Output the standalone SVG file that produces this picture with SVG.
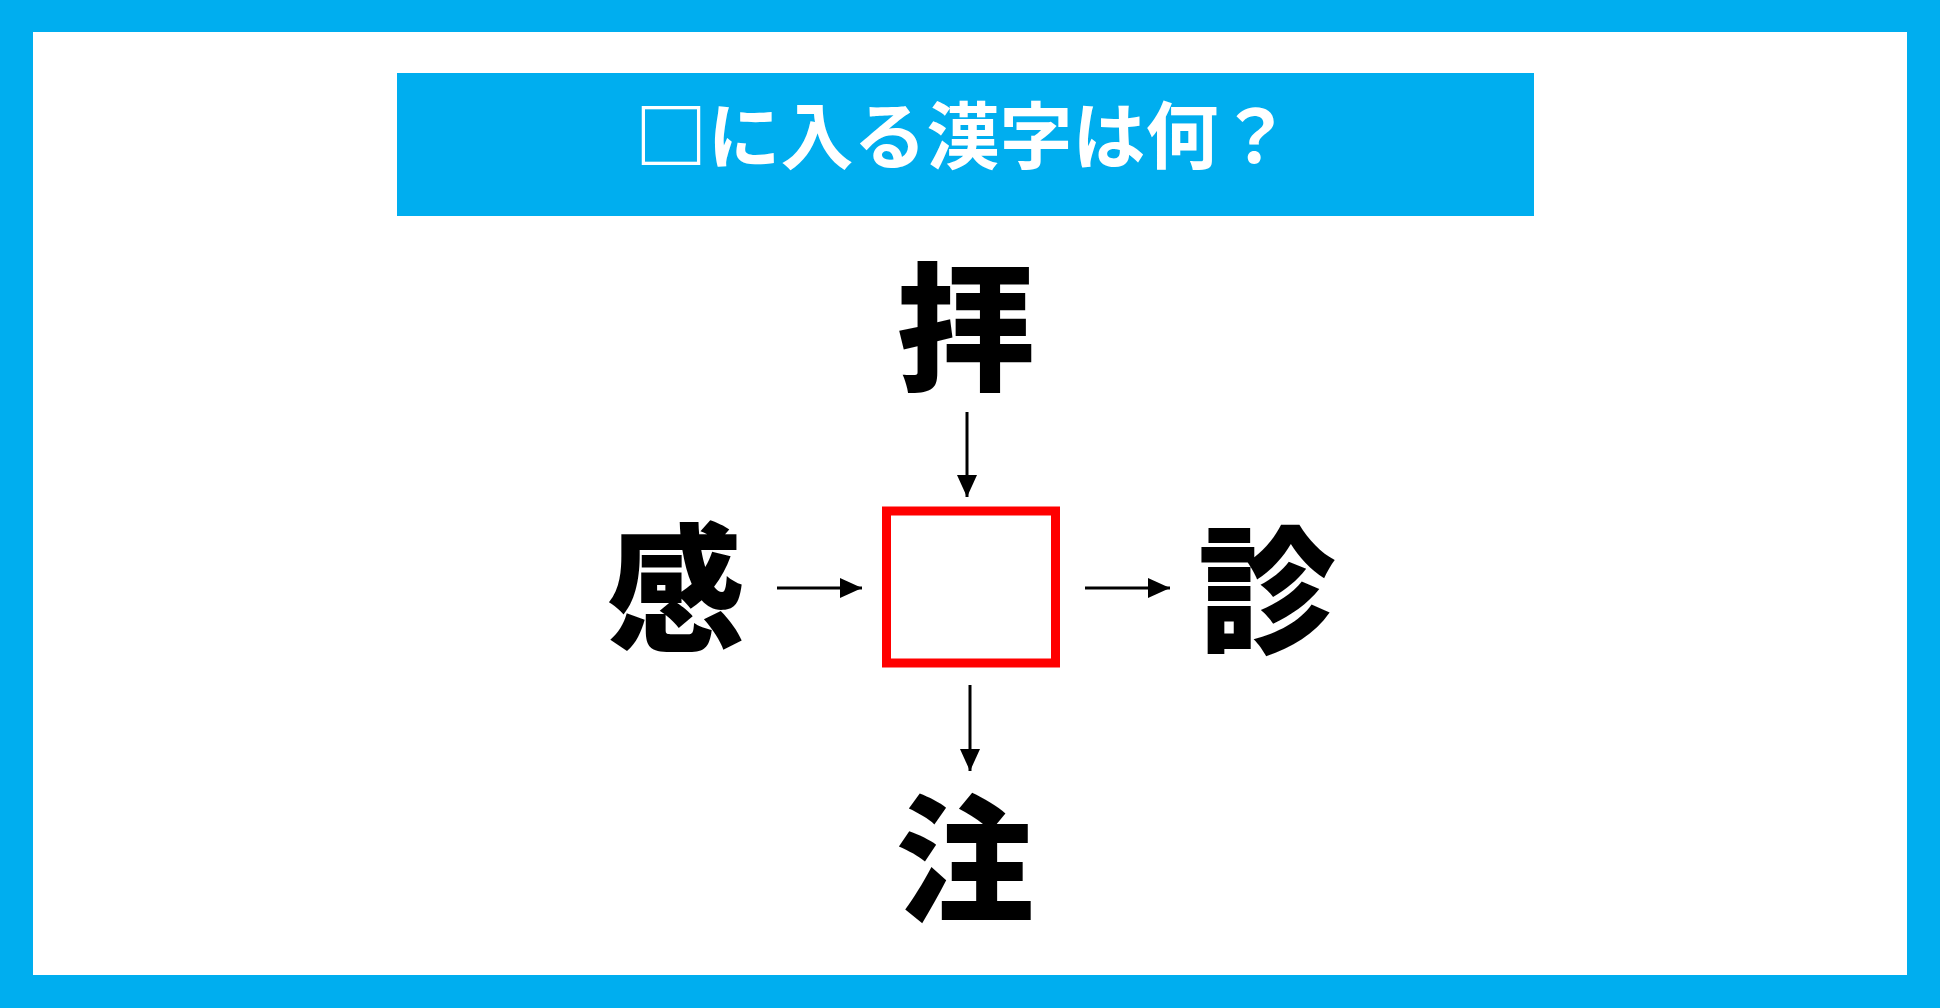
<svg xmlns="http://www.w3.org/2000/svg" width="1940" height="1008" viewBox="0 0 1940 1008">
  <defs>
    <style>
      .kanji { font-family: "Noto Sans CJK JP", "Noto Sans CJK SC", sans-serif; font-weight: 900; font-size: 138px; fill: #000; text-anchor: middle; dominant-baseline: central; }
      .title { font-family: "Noto Sans CJK JP", "Noto Sans CJK SC", sans-serif; font-weight: 700; font-size: 73px; fill: #fff; text-anchor: middle; dominant-baseline: central; letter-spacing: 0px; }
      .conn { stroke: #000; stroke-width: 3; fill: none; }
    </style>
    <marker id="ah" markerUnits="userSpaceOnUse" markerWidth="22" markerHeight="20" refX="22" refY="10" orient="auto">
      <path d="M0,0 L22,10 L0,20 Z" fill="#000"/>
    </marker>
  </defs>
  <rect x="0" y="0" width="1940" height="1008" fill="#00AEEF"/>
  <rect x="33" y="32" width="1874" height="943" fill="#fff"/>
  <g id="title">
    <rect x="397" y="73" width="1137" height="143" fill="#00AEEF"/>
    <text class="title" x="963" y="131">□に入る漢字は何？</text>
  </g>
  <g id="node-top"><text class="kanji" x="966" y="319">拝</text></g>
  <g id="node-left"><text class="kanji" x="676" y="580">感</text></g>
  <g id="node-right"><text class="kanji" x="1267" y="582">診</text></g>
  <g id="node-bottom"><text class="kanji" x="965" y="851">注</text></g>
  <g id="node-center"><rect x="886.5" y="511" width="169" height="152" fill="none" stroke="#FF0000" stroke-width="9"/></g>
  <g id="connectors">
    <line class="conn" x1="967" y1="412" x2="967" y2="497" marker-end="url(#ah)"/>
    <line class="conn" x1="970" y1="685" x2="970" y2="771" marker-end="url(#ah)"/>
    <line class="conn" x1="777" y1="588" x2="862" y2="588" marker-end="url(#ah)"/>
    <line class="conn" x1="1085" y1="588" x2="1170" y2="588" marker-end="url(#ah)"/>
  </g>
</svg>
